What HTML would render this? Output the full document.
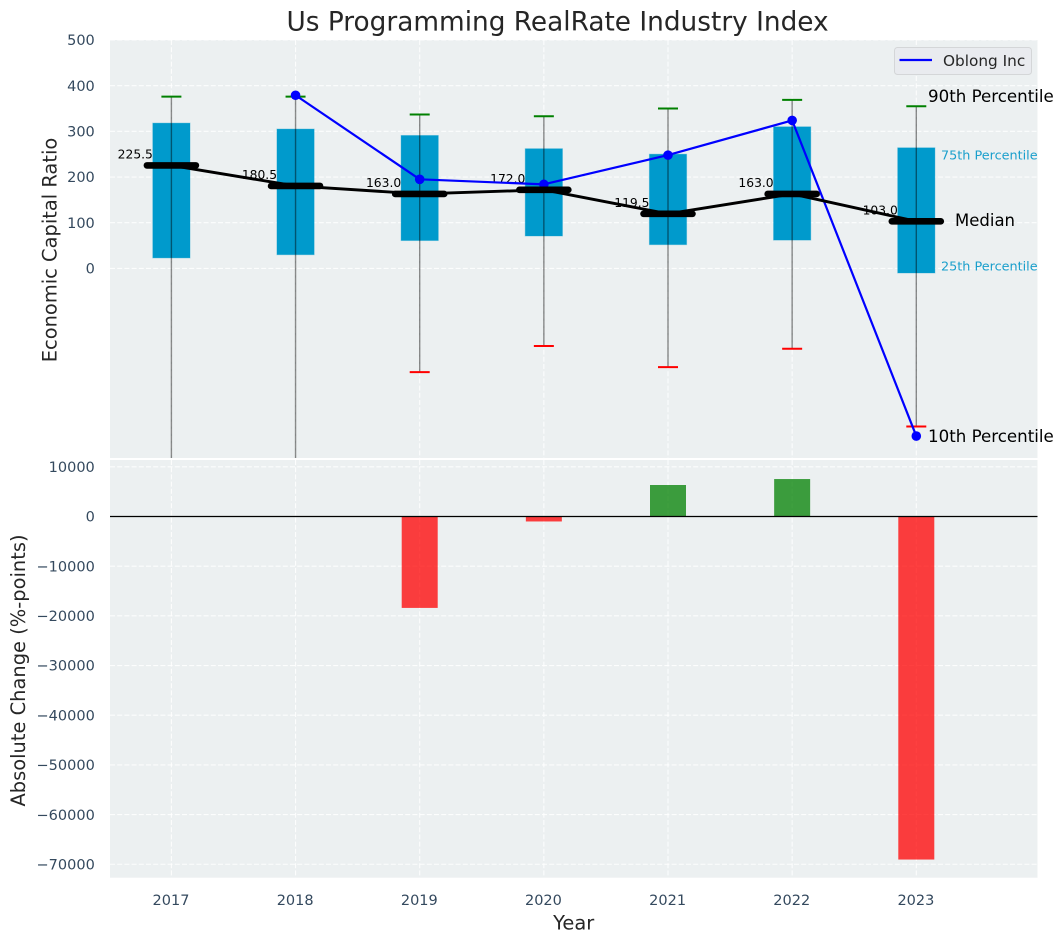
<!DOCTYPE html>
<html lang="en">
<head>
<meta charset="utf-8">
<title>Us Programming RealRate Industry Index</title>
<style>
html,body{margin:0;padding:0;background:#fff;}
#chart{display:block;width:1063px;height:942px;font-family:"DejaVu Sans","Liberation Sans",sans-serif;}
</style>
</head>
<body>
<svg id="chart" xmlns="http://www.w3.org/2000/svg" width="1063" height="942" viewBox="0 0 1063 942">
  <defs>
    <clipPath id="top-clip"><rect x="110" y="40" width="927.5" height="418"></rect></clipPath>
    <clipPath id="bottom-clip"><rect x="110" y="460" width="927.5" height="417.7"></rect></clipPath>
  </defs>
  <rect x="110" y="40" width="927.5" height="418" fill="#ecf0f1"></rect>
  <rect x="110" y="460" width="927.5" height="417.7" fill="#ecf0f1"></rect>
  <g id="grid"></g>
  <g id="median-labels"></g>
  <g id="top-marks" clip-path="url(#top-clip)"></g>
  <g id="bottom-marks" clip-path="url(#bottom-clip)"></g>
  <g id="ticks"></g>

  <text x="286.5" y="30.5" font-size="26.35" fill="#262626" id="title">Us Programming RealRate Industry Index</text>
  <text transform="translate(56.7,250) rotate(-90)" text-anchor="middle" font-size="19.44" fill="#262626">Economic Capital Ratio</text>
  <text transform="translate(25,670.5) rotate(-90)" text-anchor="middle" font-size="19.44" fill="#262626">Absolute Change (%-points)</text>
  <text x="573.7" y="929.3" text-anchor="middle" font-size="19.44" fill="#262626">Year</text>

  <text x="928" y="102" font-size="16.67" fill="#000">90th Percentile</text>
  <text x="941" y="159.3" font-size="12.8" fill="#1a9fcc">75th Percentile</text>
  <text x="955" y="226" font-size="16.5" fill="#000">Median</text>
  <text x="941" y="270.3" font-size="12.8" fill="#1a9fcc">25th Percentile</text>
  <text x="928" y="442" font-size="16.67" fill="#000">10th Percentile</text>

  <g>
    <rect x="894.5" y="47.5" width="137" height="27" rx="3" fill="#e9ebef" stroke="#d4d6d8" stroke-width="1"></rect>
    <line x1="899.5" y1="60" x2="932" y2="60" stroke="#0000ff" stroke-width="2.2"></line>
    <text x="943" y="66" font-size="15.3" fill="#262626">Oblong Inc</text>
  </g>
</svg>
<script>
const years = [2017, 2018, 2019, 2020, 2021, 2022, 2023];
const p90 = [376, 376, 337, 333, 350, 369, 355];
const q3 = [318, 305, 291, 262, 250, 310, 264];
const medians = [225.5, 180.5, 163.0, 172.0, 119.5, 163.0, 103.0];
const q1 = [23, 30, 61, 71, 52, 62, -10];
const p10 = [-620, -600, -227, -170, -216, -176, -346];
const oblong = [null, 379, 195, 184, 248, 324, -367];
const absoluteChange = [null, null, -18400, -1000, 6340, 7540, -69050];
const topTicks = [0, 100, 200, 300, 400, 500];
const bottomTicks = [10000, 0, -10000, -20000, -30000, -40000, -50000, -60000, -70000];

const SVG_NS = 'http://www.w3.org/2000/svg';
const xScale = function (year) { return 171.4 + (year - 2017) * 124.15; };
const yTop = function (v) { return 268.4 - v * 0.4568; };
const yBottom = function (v) { return 516.5 - v * 0.004968; };

function make(tag, parent, attrs) {
  const el = document.createElementNS(SVG_NS, tag);
  Object.keys(attrs).forEach(function (k) { el.setAttribute(k, attrs[k]); });
  parent.appendChild(el);
  return el;
}

const gridG = document.getElementById('grid');
const tickG = document.getElementById('ticks');
const labelG = document.getElementById('median-labels');
const topG = document.getElementById('top-marks');
const bottomG = document.getElementById('bottom-marks');
const gridStyle = { stroke: '#ffffff', 'stroke-width': 1.1, 'stroke-dasharray': '5 2.2', 'stroke-opacity': 0.85 };
const tickColor = '#34495e';

topTicks.forEach(function (t) {
  const line = make('line', gridG, Object.assign({ x1: 110, x2: 1037.5, y1: yTop(t), y2: yTop(t) }, gridStyle));
  
  
  const label = make('text', tickG, { x: 94.8, y: yTop(t) + 5.2, 'text-anchor': 'end', 'font-size': 14.5, fill: tickColor });
  label.textContent = String(t);
  
  
});

bottomTicks.forEach(function (t) {
  const line = make('line', gridG, Object.assign({ x1: 110, x2: 1037.5, y1: yBottom(t), y2: yBottom(t) }, gridStyle));
  
  
  const label = make('text', tickG, { x: 94.8, y: yBottom(t) + 5.2, 'text-anchor': 'end', 'font-size': 14.5, fill: tickColor });
  label.textContent = String(t).replace('-', '\u2212');
  
  
});

years.forEach(function (year) {
  const x = xScale(year);
  const upper = make('line', gridG, Object.assign({ x1: x, x2: x, y1: 40, y2: 458 }, gridStyle));
  
  
  const lower = make('line', gridG, Object.assign({ x1: x, x2: x, y1: 460, y2: 877.7 }, gridStyle));
  
  
  const label = make('text', tickG, { x: x - 0.4, y: 905.2, 'text-anchor': 'middle', 'font-size': 14.5, fill: tickColor });
  label.textContent = String(year);
  
  
});

medians.forEach(function (m, i) {
  const label = make('text', labelG, { x: xScale(years[i]) - 18.5, y: yTop(m) - 6.8, 'text-anchor': 'end', 'font-size': 12.3, fill: '#000' });
  label.textContent = m.toFixed(1);
  
  
});

years.forEach(function (year, i) {
  const x = xScale(year);
  const box = make('rect', topG, { x: x - 18.6, y: yTop(q3[i]), width: 37.2, height: yTop(q1[i]) - yTop(q3[i]), fill: '#009acc', stroke: '#009acc', 'stroke-opacity': 0.35, 'stroke-width': 1 });
  
  
  const whisker = make('line', topG, { x1: x, x2: x, y1: yTop(p90[i]), y2: yTop(p10[i]), stroke: '#000', 'stroke-opacity': 0.45, 'stroke-width': 1.4 });
  
  
  const capHigh = make('line', topG, { x1: x - 10, x2: x + 10, y1: yTop(p90[i]), y2: yTop(p90[i]), stroke: '#008000', 'stroke-width': 2 });
  
  
  const capLow = make('line', topG, { x1: x - 10, x2: x + 10, y1: yTop(p10[i]), y2: yTop(p10[i]), stroke: '#ff0000', 'stroke-width': 2 });
  
  
});

const oblongPoints = [];
oblong.forEach(function (v, i) {
  if (v !== null) oblongPoints.push(xScale(years[i]) + ',' + yTop(v));
});
const oblongLine = make('polyline', topG, { points: oblongPoints.join(' '), fill: 'none', stroke: '#0000ff', 'stroke-width': 2.2, 'stroke-linejoin': 'round' });


oblong.forEach(function (v, i) {
  if (v === null) return;
  const dot = make('circle', topG, { cx: xScale(years[i]), cy: yTop(v), r: 4.8, fill: '#0000ff' });
  
  
});

const medianPoints = medians.map(function (m, i) { return xScale(years[i]) + ',' + yTop(m); }).join(' ');
const medianLine = make('polyline', topG, { points: medianPoints, fill: 'none', stroke: '#000', 'stroke-width': 2.9, 'stroke-linejoin': 'round' });


medians.forEach(function (m, i) {
  const x = xScale(years[i]);
  const bar = make('line', topG, { x1: x - 24.5, x2: x + 24.5, y1: yTop(m), y2: yTop(m), stroke: '#000', 'stroke-width': 6.6, 'stroke-linecap': 'round' });
  
  
});

absoluteChange.forEach(function (v, i) {
  if (v === null) return;
  const x = xScale(years[i]);
  const y0 = yBottom(0);
  const y1 = yBottom(v);
  const bar = make('rect', bottomG, { x: x - 18, y: Math.min(y0, y1), width: 36, height: Math.abs(y1 - y0), fill: v >= 0 ? '#008000' : '#ff0000', 'fill-opacity': 0.75 });
  
  
});
const zeroLine = make('line', bottomG, { x1: 110, x2: 1037.5, y1: yBottom(0), y2: yBottom(0), stroke: '#000', 'stroke-width': 1.2 });


</script>
</body>
</html>
